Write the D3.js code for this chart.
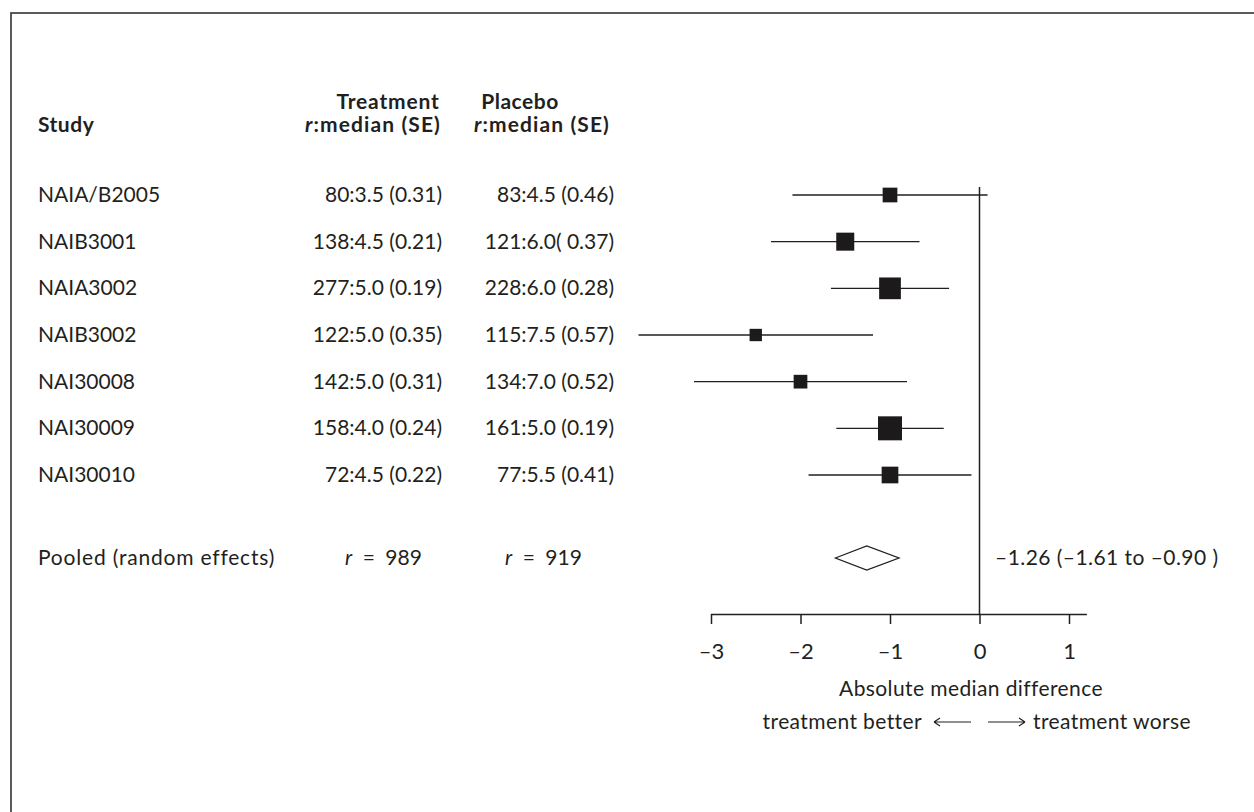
<!DOCTYPE html>
<html>
<head>
<meta charset="utf-8">
<script src="https://cdn.jsdelivr.net/npm/d3@7"></script>
<style>
  html, body { margin: 0; padding: 0; background: #fff; }
  svg { display: block; }
  text { font-family: Lato, "Open Sans", "DejaVu Sans", sans-serif; fill: #231f20; }
</style>
</head>
<body>
<svg id="chart" width="1254" height="812"></svg>
<script>
// Study rows
const studies = ["NAIA/B2005", "NAIB3001", "NAIA3002", "NAIB3002", "NAI30008", "NAI30009", "NAI30010"];
const treatmentLabels = ["80:3.5 (0.31)", "138:4.5 (0.21)", "277:5.0 (0.19)", "122:5.0 (0.35)", "142:5.0 (0.31)", "158:4.0 (0.24)", "72:4.5 (0.22)"];
const placeboLabels = ["83:4.5 (0.46)", "121:6.0( 0.37)", "228:6.0 (0.28)", "115:7.5 (0.57)", "134:7.0 (0.52)", "161:5.0 (0.19)", "77:5.5 (0.41)"];

// Absolute median difference with 95% CI, and relative study weight (%)
const difference = [-1.0, -1.5, -1.0, -2.5, -2.0, -1.0, -1.0];
const lowerCI = [-2.09, -2.33, -1.66, -3.81, -3.19, -1.60, -1.91];
const upperCI = [0.09, -0.67, -0.34, -1.19, -0.81, -0.40, -0.09];
const weights = [9.8, 14.7, 21.4, 6.9, 8.5, 26.1, 12.6];

// Pooled estimate
const pooledLabel = "Pooled (random effects)";
const pooledTreatmentN = 989;
const pooledPlaceboN = 919;
const pooledEstimate = -1.26;
const pooledLower = -1.61;
const pooledUpper = -0.90;

// Axis
const axisTicks = [-3, -2, -1, 0, 1];
const axisDomain = [-3, 1];
const axisTitle = "Absolute median difference";
const betterLabel = "treatment better";
const worseLabel = "treatment worse";

const svg = d3.select("#chart");
const ink = "#231f20";
const fs = 21;

// Outer frame
svg.append("rect")
  .attr("x", 11).attr("y", 13)
  .attr("width", 1300).attr("height", 850)
  .attr("fill", "none").attr("stroke", "#333").attr("stroke-width", 1.6);

const x = d3.scaleLinear().domain(axisDomain).range([711, 1069]);
const y = d3.scalePoint().domain(studies).range([195, 475]);
const pooledY = 558;
const size = d3.scaleSqrt().domain([0, d3.max(weights)]).range([0, 24]);

const colStudy = 38, colTreat = 442, colPlacebo = 614;

// Header
const head = svg.append("g").attr("font-weight", "bold").attr("font-size", fs);
head.append("text").attr("x", colStudy).attr("y", 132).attr("letter-spacing", 0.5).text("Study");
head.append("text").attr("x", 388).attr("y", 109).attr("text-anchor", "middle").attr("letter-spacing", 0.8).text("Treatment");
head.append("text").attr("x", 520).attr("y", 109).attr("text-anchor", "middle").attr("letter-spacing", 0.5).text("Placebo");
[373, 542].forEach(cx => {
  const t = head.append("text").attr("x", cx).attr("y", 132)
    .attr("text-anchor", "middle").attr("letter-spacing", 1.1);
  t.append("tspan").attr("font-style", "italic").text("r");
  t.append("tspan").text(":median (SE)");
});

// Study text columns
const rows = svg.append("g").attr("font-size", fs);
studies.forEach((s, i) => {
  const yy = y(s) + 7;
  rows.append("text").attr("x", colStudy).attr("y", yy).text(s);
  rows.append("text").attr("x", colTreat).attr("y", yy).attr("text-anchor", "end").text(treatmentLabels[i]);
  rows.append("text").attr("x", colPlacebo).attr("y", yy).attr("text-anchor", "end").text(placeboLabels[i]);
});

// Pooled row text
rows.append("text").attr("x", colStudy).attr("y", pooledY + 7).attr("letter-spacing", 0.8).text(pooledLabel);
[[345, pooledTreatmentN], [505, pooledPlaceboN]].forEach(([px, n]) => {
  const t = rows.append("text").attr("x", px).attr("y", pooledY + 7);
  t.append("tspan").attr("font-style", "italic").text("r");
  t.append("tspan").text("\u2002=\u2002" + n);
});
const fmt = v => (v < 0 ? "\u2013" : "") + Math.abs(v).toFixed(2);
rows.append("text").attr("x", 995).attr("y", pooledY + 7).attr("letter-spacing", 0.45)
  .text(`${fmt(pooledEstimate)} (${fmt(pooledLower)} to ${fmt(pooledUpper)} )`);

// Line of no effect
const axisY = 614;
svg.append("line")
  .attr("x1", x(0)).attr("x2", x(0))
  .attr("y1", 187).attr("y2", axisY)
  .attr("stroke", ink).attr("stroke-width", 1.5);

// Confidence intervals and weighted squares
const marks = svg.append("g");
studies.forEach((s, i) => {
  marks.append("line")
    .attr("x1", x(lowerCI[i])).attr("x2", x(upperCI[i]))
    .attr("y1", y(s)).attr("y2", y(s))
    .attr("stroke", ink).attr("stroke-width", 1.4);
  const w = size(weights[i]);
  marks.append("rect")
    .attr("x", x(difference[i]) - w / 2).attr("y", y(s) - w / 2)
    .attr("width", w).attr("height", w)
    .attr("fill", "#1c1a1b");
});

// Pooled diamond
const dh = 12;
marks.append("path")
  .attr("d", `M${x(pooledLower)},${pooledY} L${x(pooledEstimate)},${pooledY - dh} L${x(pooledUpper)},${pooledY} L${x(pooledEstimate)},${pooledY + dh} Z`)
  .attr("fill", "#fff").attr("stroke", ink).attr("stroke-width", 1.3);

// X axis
const axis = d3.axisBottom(x)
  .tickValues(axisTicks)
  .tickSize(10)
  .tickSizeOuter(0)
  .tickFormat(d => (d < 0 ? "\u2013" + Math.abs(d) : String(d)));
const ag = svg.append("g").attr("transform", `translate(0,${axisY})`).call(axis);
ag.select(".domain").attr("d", `M${x(-3)},0.5H${x(1.2)}`).attr("stroke", ink).attr("stroke-width", 1.5);
ag.selectAll(".tick line").attr("stroke", ink).attr("stroke-width", 1.5);
ag.selectAll(".tick text")
  .attr("font-size", 22).attr("font-family", "Lato, sans-serif")
  .attr("fill", ink).attr("dy", null).attr("y", 45);

svg.append("text").attr("x", 971).attr("y", 696)
  .attr("text-anchor", "middle").attr("font-size", fs)
  .attr("letter-spacing", 0.4).text(axisTitle);

// Direction labels with long arrows
const dirY = 729;
svg.append("text").attr("x", 922).attr("y", dirY)
  .attr("text-anchor", "end").attr("font-size", fs).attr("letter-spacing", 0.4).text(betterLabel);
svg.append("text").attr("x", 1033).attr("y", dirY)
  .attr("font-size", fs).attr("letter-spacing", 0.4).text(worseLabel);
const arrowY = dirY - 7;
const arrows = svg.append("g").attr("stroke", ink).attr("stroke-width", 1.2).attr("fill", "none");
arrows.append("path").attr("d", `M934,${arrowY}H971 M934,${arrowY}l6,-4 M934,${arrowY}l6,4`);
arrows.append("path").attr("d", `M988,${arrowY}H1025 M1025,${arrowY}l-6,-4 M1025,${arrowY}l-6,4`);
</script>
</body>
</html>
